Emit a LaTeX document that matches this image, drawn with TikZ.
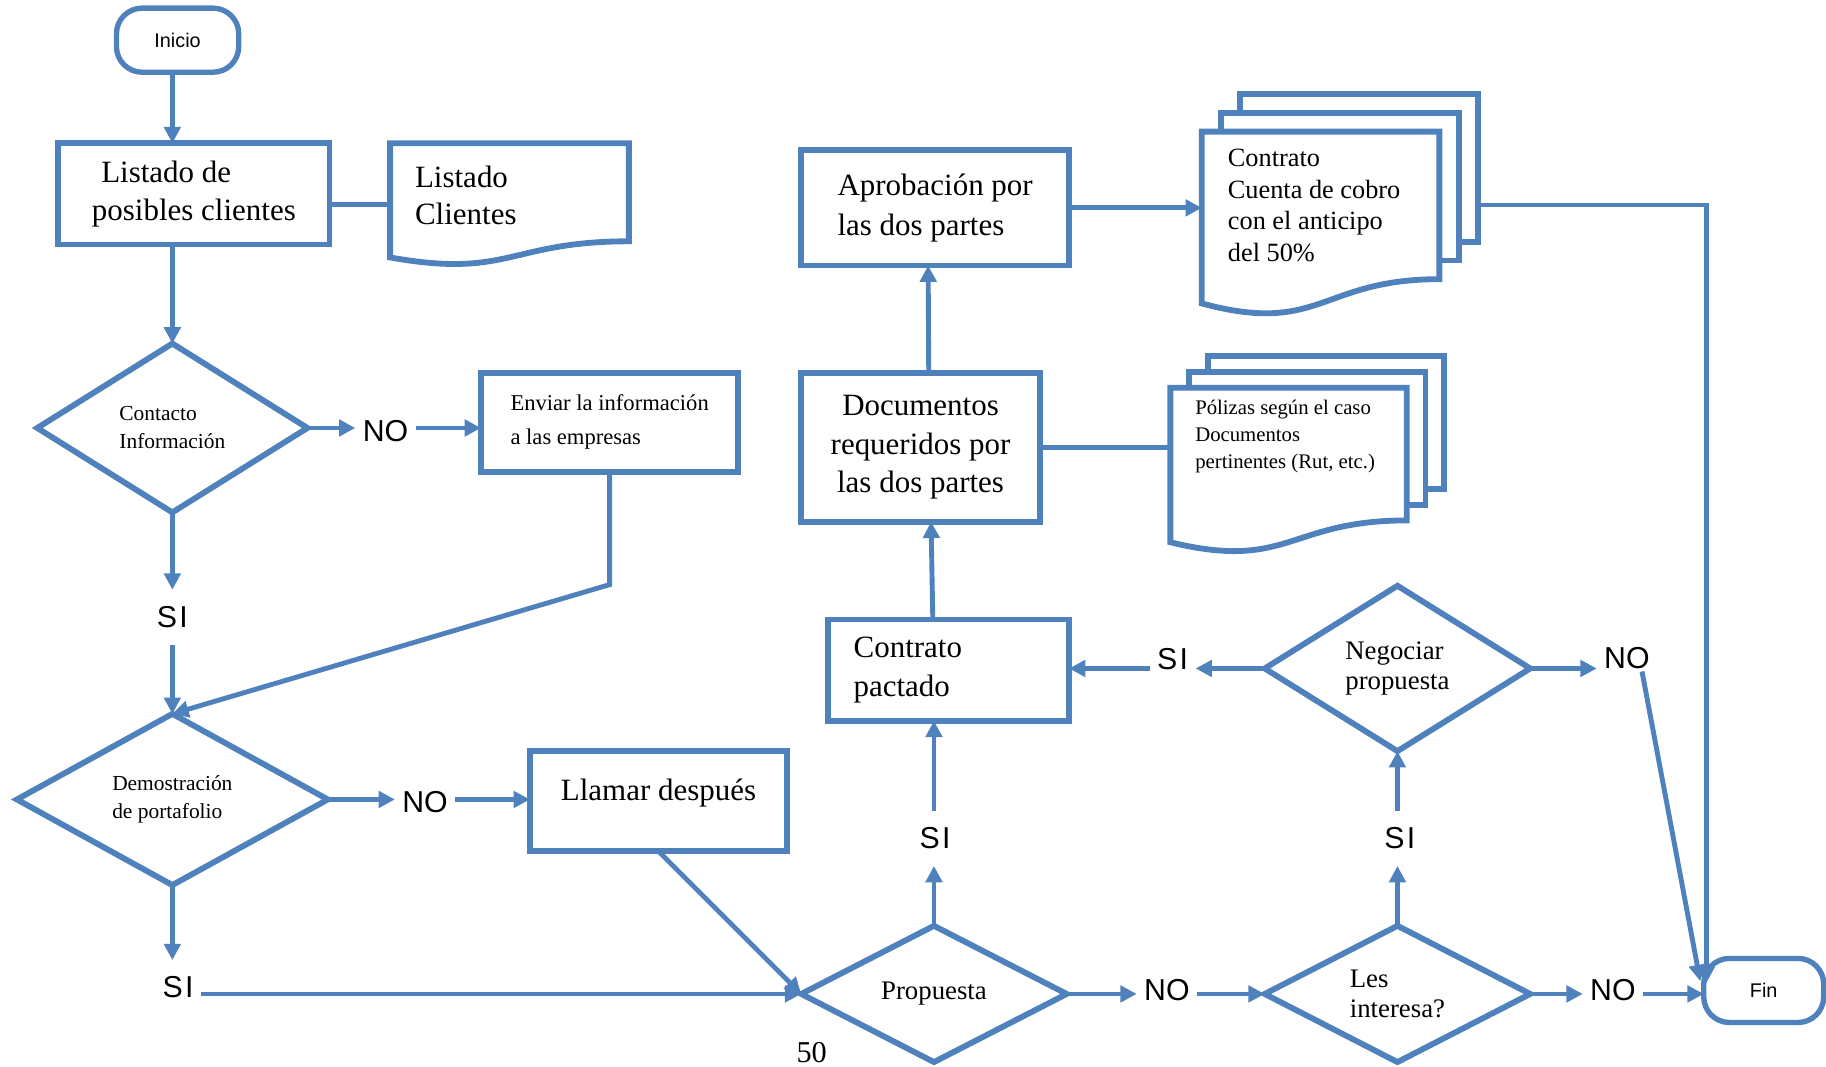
\documentclass[tikz,border=0pt]{standalone}
\usepackage{fontspec}
\setmainfont{Liberation Serif}
\setsansfont{Liberation Sans}
\usetikzlibrary{shapes.geometric, arrows.meta, calc}
\definecolor{azulflujo}{HTML}{4F81BD}

% borde de documento (hoja con fondo ondulado)
\newcommand{\hojaborde}[2]{%
  \draw[borde] (#1.north west) -- (#1.north east)
    -- ($(#1.south east)+(0,{-0.198*#2})$)
    .. controls ($(#1.south)+(0,{-0.198*#2})$) and ($(#1.south)+(0,{0.108*#2})$)
    .. ($(#1.south west)+(0,{-0.066*#2})$) -- cycle;}
% varias hojas
\newcommand{\hojasborde}[4]{%
  \draw[borde] ($(#1.north west)+({2*#3},{#4})$) -- ($(#1.north west)+({2*#3},{2*#4})$)
    -- ($(#1.north east)+({2*#3},{2*#4})$) -- ($(#1.south east)+({2*#3},{-0.198*#2+2*#4})$)
    -- ($(#1.south east)+({#3},{-0.198*#2+2*#4})$);
  \draw[borde] ($(#1.north west)+({#3},0)$) -- ($(#1.north west)+({#3},{#4})$)
    -- ($(#1.north east)+({#3},{#4})$) -- ($(#1.south east)+({#3},{-0.198*#2+#4})$)
    -- ($(#1.south east)+(0,{-0.198*#2+#4})$);
  \hojaborde{#1}{#2}}

\begin{document}
\begin{tikzpicture}[x=0.5pt, y=-0.5pt,
  caja/.style={draw=azulflujo, line width=2.5pt, inner sep=0pt, outer sep=0pt, align=left, font=\fontsize{13.3}{16.5}\selectfont},
  rombo/.style={diamond, aspect=1.6, draw=azulflujo, line width=2.5pt, inner sep=0pt, outer sep=0pt, align=left},
  terminal/.style={draw=azulflujo, line width=2.3pt, rounded corners=11pt, inner sep=0pt, outer sep=0pt, font=\sffamily\fontsize{8.5}{10}\selectfont},
  hoja/.style={inner sep=0pt, outer sep=0pt},
  textohoja/.style={inner sep=0pt, anchor=west, align=left},
  etiqueta/.style={inner xsep=3pt, inner ysep=7pt, font=\sffamily\fontsize{13}{15}\selectfont},
  borde/.style={draw=azulflujo, line width=2.5pt},
  linea/.style={draw=azulflujo, line width=2.1pt},
  flecha/.style={linea, -{Triangle[length=7pt, width=7pt]}},
]
\useasboundingbox (0,0) rectangle (1568,916);
  % columna izquierda
  \node[terminal, minimum width=52.5pt, minimum height=27.5pt] (inicio) at (152.5,34.5) {Inicio};
  \node[caja, minimum width=116.5pt, minimum height=43.5pt] (lista) at (166.5,166.5) {\hspace*{4pt}Listado de\\posibles clientes};
  \node[hoja, minimum width=102.5pt, minimum height=52.5pt] (listc) at (437.5,175.5) {};
  \node[textohoja, font=\fontsize{13.3}{16}\selectfont] (listct) at (356,168) {Listado\\Clientes};
  \node[rombo, minimum width=116pt, minimum height=72.5pt, font=\fontsize{9.2}{12}\selectfont] (contacto) at (148,367.5) {Contacto\\Información};
  \node[etiqueta] (no1) at (331,370) {NO};
  \node[caja, minimum width=110.5pt, minimum height=42.5pt, font=\fontsize{9.7}{14.5}\selectfont] (aviso) at (523.5,362.5) {Enviar la información\\a las empresas};
  \node[etiqueta] (si1) at (148,530) {S\kern1pt I};
  \node[rombo, minimum width=133.5pt, minimum height=73.5pt, font=\fontsize{9.2}{12}\selectfont] (demo) at (148,686.5) {Demostración\\de portafolio};
  \node[etiqueta] (no2) at (365,689) {NO};
  \node[caja, minimum width=110.5pt, minimum height=43pt, text depth=10pt] (llamar) at (565.5,688) {Llamar después};
  \node[etiqueta] (si2) at (153,848) {S\kern1pt I};

  % centro
  \node[rombo, minimum width=114pt, minimum height=58.5pt, font=\fontsize{11.5}{13}\selectfont] (propuesta) at (802,853.5) {Propuesta};
  \node[font=\fontsize{13}{15}\selectfont] (pagina) at (697,904) {50};
  \node[etiqueta] (si3) at (803,720) {S\kern1pt I};
  \node[caja, minimum width=103.5pt, minimum height=43.5pt, text width=81.5pt] (pactado) at (814.5,575.5) {Contrato\\pactado};
  \node[caja, minimum width=102.5pt, minimum height=64pt, align=center] (docs) at (790.5,384) {Documentos\\requeridos por\\las dos partes};
  \node[caja, minimum width=115pt, minimum height=49.5pt, font=\fontsize{13.3}{17}\selectfont] (aprob) at (803,178.5) {Aprobación por\\las dos partes};
  \node[hoja, minimum width=102pt, minimum height=79pt] (contrato) at (1134,192) {};
  \node[textohoja, font=\fontsize{11.3}{13.5}\selectfont] (contratot) at (1054,176.5) {Contrato\\Cuenta de cobro\\con el anticipo\\del 50\%};
  \node[hoja, minimum width=101.5pt, minimum height=71pt] (polizas) at (1106.5,404) {};
  \node[textohoja, font=\fontsize{8.9}{11.5}\selectfont] (polizast) at (1026,375) {Pólizas según el caso\\Documentos\\pertinentes (Rut, etc.)};

  % derecha
  \node[rombo, minimum width=114pt, minimum height=58.5pt, font=\fontsize{11.5}{13}\selectfont] (lesint) at (1200,853.5) {Les\\interesa?};
  \node[etiqueta] (no3) at (1002,850) {NO};
  \node[etiqueta] (si5) at (1202,720) {S\kern1pt I};
  \node[rombo, minimum width=114pt, minimum height=71pt, font=\fontsize{11.5}{13}\selectfont] (negociar) at (1200,574) {Negociar\\propuesta};
  \node[etiqueta] (si4) at (1007,566) {S\kern1pt I};
  \node[etiqueta] (no5) at (1397,565) {NO};
  \node[etiqueta] (no4) at (1385,850) {NO};
  \node[terminal, minimum width=51.5pt, minimum height=27.5pt] (fin) at (1514.5,850.5) {Fin};

  % hojas
  \hojaborde{listc}{105}
  \hojasborde{contrato}{158}{16.5}{-16}
  \hojasborde{polizas}{142}{16}{-13.5}

  % conectores
  \draw[flecha] (contacto.north |- inicio.south) -- (contacto.north |- lista.north);
  \draw[flecha] (contacto.north |- lista.south) -- (contacto.north);
  \draw[linea] (lista.east |- listc.west) -- (listc.west);
  \draw[flecha] (contacto.east) -- (contacto.east -| no1.west);
  \draw[flecha] (contacto.east -| no1.east) -- (contacto.east -| aviso.west);
  \draw[flecha] (contacto.south) -- (contacto.south |- si1.north);
  \draw[flecha] (contacto.south |- si1.south) -- (demo.north);
  \draw[flecha] (aviso.south) -- ++(0,97) -- (demo.north);
  \draw[flecha] (demo.east) -- (demo.east -| no2.west);
  \draw[flecha] (demo.east -| no2.east) -- (demo.east -| llamar.west);
  \draw[flecha] (demo.south) -- (demo.south |- si2.north);
  \draw[flecha] (si2.east |- propuesta.west) -- (propuesta.west);
  \draw[flecha] (llamar.south) -- (propuesta.west);
  \draw[flecha] (propuesta.north) -- (propuesta.north |- si3.south);
  \draw[flecha] (propuesta.north |- si3.north) -- (propuesta.north |- pactado.south);
  \draw[flecha] ($(pactado.north)+(-13.5,0)$) -- ($(docs.south)+(9,0)$);
  \draw[flecha] ($(docs.north)+(7,0)$) -- ($(aprob.south)+(-6,0)$);
  \draw[linea] (docs.east) -- (docs.east -| polizas.west);
  \draw[flecha] (aprob.east) -- (aprob.east -| contrato.west);
  \draw[flecha] (propuesta.east) -- (propuesta.east -| no3.west);
  \draw[flecha] (propuesta.east -| no3.east) -- (lesint.west);
  \draw[flecha] (lesint.north) -- (lesint.north |- si5.south);
  \draw[flecha] (lesint.north |- si5.north) -- (negociar.south);
  \draw[flecha] (negociar.west) -- (negociar.west -| si4.east);
  \draw[flecha] (negociar.west -| si4.west) -- (negociar.west -| pactado.east);
  \draw[flecha] (negociar.east) -- (negociar.east -| no5.west);
  \draw[flecha] ($(no5.south)+(13,-12)$) -- ($(fin.west)+(-3,-8)$);
  \draw[flecha] (lesint.east) -- (lesint.east -| no4.west);
  \draw[flecha] (lesint.east -| no4.east) -- (lesint.east -| fin.west);
  \draw[flecha] ($(contrato.east)+(34,-16)$) -| ($(fin.west)+(2,-6)$);
\end{tikzpicture}
\end{document}
